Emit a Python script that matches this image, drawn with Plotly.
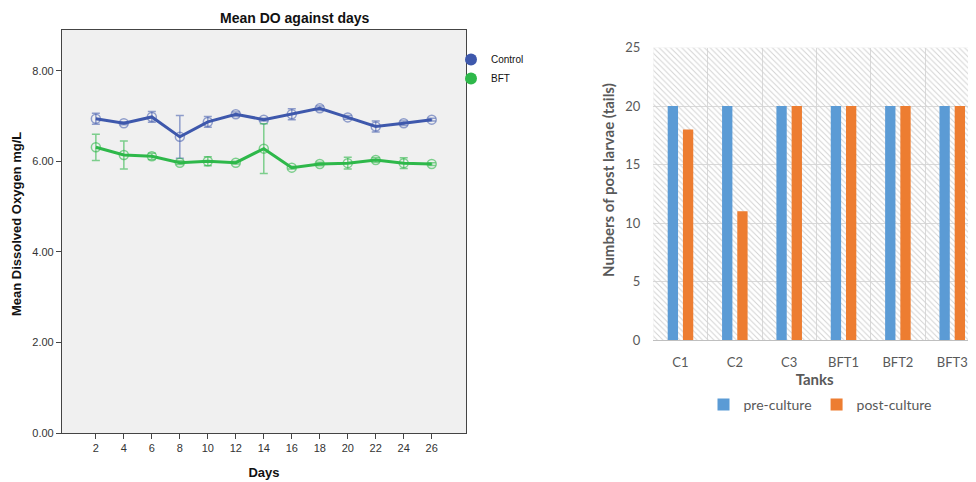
import plotly.graph_objects as go

# ---------------- data ----------------
days = [2, 4, 6, 8, 10, 12, 14, 16, 18, 20, 22, 24, 26]
control_mean = [6.94, 6.84, 6.98, 6.54, 6.87, 7.04, 6.92, 7.04, 7.17, 6.97, 6.77, 6.84, 6.92]
control_err = [0.12, 0.03, 0.12, 0.47, 0.12, 0.05, 0.03, 0.12, 0.05, 0.04, 0.12, 0.05, 0.03]
bft_mean = [6.31, 6.14, 6.11, 5.97, 6.00, 5.97, 6.28, 5.86, 5.94, 5.96, 6.03, 5.96, 5.94]
bft_err = [0.29, 0.31, 0.07, 0.04, 0.10, 0.03, 0.55, 0.03, 0.04, 0.13, 0.05, 0.12, 0.03]
do_ticks = [0, 2, 4, 6, 8]

tanks = ["C1", "C2", "C3", "BFT1", "BFT2", "BFT3"]
pre_culture = [20, 20, 20, 20, 20, 20]
post_culture = [18, 11, 20, 20, 20, 20]
larvae_ticks = [0, 5, 10, 15, 20, 25]

# ---------------- styles ----------------
WIN_W, WIN_H = 976, 482
OFF = 8                      # default page margin of the html body
W, H = WIN_W - OFF, WIN_H - OFF
BLUE = "rgb(62,88,172)"
BLUE_L = "rgba(62,88,172,0.55)"
GREEN = "rgb(46,184,74)"
GREEN_L = "rgba(46,184,74,0.6)"
XL_BLUE = "#5B9BD5"
XL_ORANGE = "#ED7D31"
XL_TXT = "#595959"
ARIAL = "Liberation Sans, Arial, sans-serif"
CALIBRI = "Lato, Open Sans, sans-serif"

def px_x(p):
    return (p - OFF) / W

def px_y(p):
    return 1 - (p - OFF) / H

tank_idx = list(range(len(tanks)))
xr_lo, xr_hi = -0.5, 5.437

fig = go.Figure()

# ---- left: line chart ----
fig.add_trace(go.Scatter(
    x=days, y=control_mean, mode="lines+markers", name="Control", showlegend=False,
    line=dict(color=BLUE, width=3),
    marker=dict(symbol="circle-open", size=9, color=BLUE_L, line=dict(width=1.5)),
    error_y=dict(type="data", array=control_err, visible=True, color=BLUE_L, thickness=1.5, width=4),
    xaxis="x", yaxis="y"))
fig.add_trace(go.Scatter(
    x=days, y=bft_mean, mode="lines+markers", name="BFT", showlegend=False,
    line=dict(color=GREEN, width=3),
    marker=dict(symbol="circle-open", size=9, color=GREEN_L, line=dict(width=1.5)),
    error_y=dict(type="data", array=bft_err, visible=True, color=GREEN_L, thickness=1.5, width=4),
    xaxis="x", yaxis="y"))
# legend entries (filled circles like the SPSS legend)
fig.add_trace(go.Scatter(x=[None], y=[None], mode="markers", name="Control",
                         marker=dict(color=BLUE, size=11), legend="legend", xaxis="x", yaxis="y"))
fig.add_trace(go.Scatter(x=[None], y=[None], mode="markers", name="BFT",
                         marker=dict(color=GREEN, size=11), legend="legend", xaxis="x", yaxis="y"))

# ---- right: bar chart ----
# hatched plot-area background
fig.add_trace(go.Bar(
    x=[(xr_lo + xr_hi) / 2], y=[larvae_ticks[-1]], width=[xr_hi - xr_lo],
    marker=dict(color="#D2D2D2", line=dict(width=0),
                pattern=dict(shape="\\", size=4, solidity=0.24, fillmode="replace")),
    showlegend=False, hoverinfo="skip", xaxis="x2", yaxis="y2"))
fig.add_trace(go.Bar(
    x=tank_idx, y=pre_culture, name="pre-culture", width=0.19, offset=-0.235,
    marker=dict(color=XL_BLUE, line=dict(width=0)), legend="legend2",
    xaxis="x2", yaxis="y2"))
fig.add_trace(go.Bar(
    x=tank_idx, y=post_culture, name="post-culture", width=0.19, offset=0.045,
    marker=dict(color=XL_ORANGE, line=dict(width=0)), legend="legend2",
    xaxis="x2", yaxis="y2"))

fig.update_layout(
    width=W, height=H,
    margin=dict(l=0, r=0, t=0, b=0, autoexpand=False),
    paper_bgcolor="white",
    barmode="overlay",
    xaxis=dict(
        domain=[px_x(62), px_x(466)], range=[-0.42, 28.45], automargin=False,
        tickvals=days, ticks="outside", ticklen=5, tickcolor="#444",
        showline=True, linecolor="#444", linewidth=1.2, mirror=True,
        showgrid=False, zeroline=False,
        tickfont=dict(family=ARIAL, size=11, color="#333"),
        title=dict(text="<b>Days</b>", font=dict(family=ARIAL, size=13, color="#111"), standoff=14),
        anchor="y"),
    yaxis=dict(
        domain=[px_y(433), px_y(30)], range=[0, 8.9], automargin=False,
        tickvals=do_ticks, tickformat=".2f", ticks="outside", ticklen=5, tickcolor="#444",
        showline=True, linecolor="#444", linewidth=1.2, mirror=True,
        showgrid=False, zeroline=False,
        tickfont=dict(family=ARIAL, size=11, color="#333"),
        anchor="x"),
    plot_bgcolor="#F0F0F0",
    xaxis2=dict(
        domain=[px_x(653.3), 1.0], range=[xr_lo, xr_hi], automargin=False,
        tickvals=tank_idx, ticktext=tanks, ticks="", showgrid=False, ticklabelstandoff=10,
        minor=dict(tick0=-0.5, dtick=1, showgrid=True, gridcolor="#D9D9D9", gridwidth=1, ticks=""),
        showline=True, linecolor="#BFBFBF", linewidth=1, zeroline=False,
        tickfont=dict(family=CALIBRI, size=13, color=XL_TXT),
        title=dict(text="<b>Tanks</b>", font=dict(family=CALIBRI, size=15, color=XL_TXT), standoff=5),
        anchor="y2"),
    yaxis2=dict(
        domain=[px_y(340), px_y(47.5)], range=[0, 25], automargin=False,
        tickvals=larvae_ticks, showgrid=True, gridcolor="#D9D9D9", gridwidth=1,
        zeroline=False, showline=False, ticks="", ticklabelstandoff=12,
        tickfont=dict(family=CALIBRI, size=13, color=XL_TXT),
        anchor="x2"),
    legend=dict(
        x=px_x(451), y=px_y(45), xanchor="left", yanchor="top",
        bgcolor="rgba(0,0,0,0)", tracegroupgap=0, itemsizing="constant",
        font=dict(family=ARIAL, size=10, color="#111")),
    legend2=dict(
        orientation="h", x=px_x(820), y=px_y(405), xanchor="center", yanchor="middle",
        bgcolor="rgba(0,0,0,0)",
        font=dict(family=CALIBRI, size=14, color=XL_TXT)),
    annotations=[
        dict(text="<b>Mean DO against days</b>", x=px_x(295), y=px_y(8),
             xref="paper", yref="paper", xanchor="center", yanchor="top", showarrow=False,
             font=dict(family=ARIAL, size=14, color="#111")),
        dict(text="<b>Mean Dissolved Oxygen mg/L</b>", x=px_x(16), y=px_y(224),
             xref="paper", yref="paper", xanchor="center", yanchor="middle", showarrow=False,
             textangle=-90, font=dict(family=ARIAL, size=13, color="#111")),
        dict(text="<b>Numbers of post larvae (tails)</b>", x=px_x(608), y=px_y(180),
             xref="paper", yref="paper", xanchor="center", yanchor="middle", showarrow=False,
             textangle=-90, font=dict(family=CALIBRI, size=15, color=XL_TXT)),
    ],
)

# the shared plot_bgcolor is grey; the bar chart's plot area is white under its hatching
fig.add_shape(type="rect", xref="x2", yref="y2", x0=xr_lo, x1=xr_hi, y0=0, y1=larvae_ticks[-1],
              fillcolor="white", line=dict(width=0), layer="below")

fig.write_html("out.html")
